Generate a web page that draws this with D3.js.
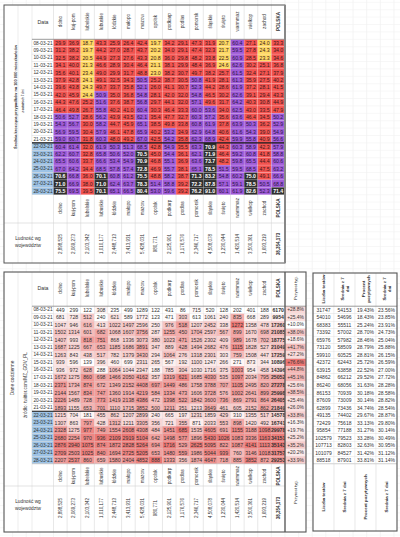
<!DOCTYPE html>
<html><head><meta charset="utf-8">
<script src="https://cdn.jsdelivr.net/npm/d3@7/dist/d3.min.js"></script>
<style>
html,body{margin:0;padding:0;background:#fff;}
svg{display:block;font-family:"Liberation Sans",Arial,sans-serif;}
</style></head>
<body><svg id="c" width="400" height="537"></svg>
<script>
// ---------- DATA ----------
const dates = ["08-03-21","09-03-21","10-03-21","11-03-21","12-03-21","13-03-21","14-03-21","15-03-21","16-03-21","17-03-21","18-03-21","19-03-21","20-03-21","21-03-21","22-03-21","23-03-21","24-03-21","25-03-21","26-03-21","27-03-21","28-03-21"];
const regions = ["dolno","kuj-pom","lubelskie","lubuskie","łódzkie","małopo","mazow","opolsk","podkarp","podlas","pomorsk","śląskie","święto","warmmaz","wielkop","zachod","POLSKA"];
const population = ["2,898,525","2,069,273","2,103,342","1,010,177","2,448,713","3,413,931","5,428,031","980,771","2,125,901","1,176,576","2,346,717","4,508,078","1,230,044","1,420,514","3,500,361","1,693,219","38,354,173"];

// 7-day average per 100k (one array per region, dates in order)
const avgDolno   = [29.9,31.2,32.5,34.1,35.6,37.9,39.6,42.0,44.3,46.4,50.6,54.3,56.9,59.0,60.4,62.2,65.5,67.0,70.6,71.0,75.5];
const avgKujPom  = [36.9,38.2,38.2,40.0,40.1,42.8,43.8,45.9,47.6,49.8,52.7,56.7,59.5,60.7,61.4,60.7,60.6,64.2,66.8,66.9,69.5];
const avgLubel   = [18.7,19.7,20.5,21.3,23.4,24.1,24.3,24.4,25.2,26.7,28.6,30.0,30.4,31.8,32.0,32.8,33.7,34.4,36.0,38.0,39.5];
const avgLubus   = [43.3,44.2,44.9,46.6,49.0,49.1,49.7,50.9,51.6,55.8,56.2,58.2,57.9,60.3,61.9,65.8,66.6,68.5,70.1,71.0,70.1];
const avgLodz    = [25.9,27.0,27.3,28.9,29.9,32.5,33.7,35.0,37.6,40.2,43.9,44.7,46.1,48.0,50.3,50.6,53.4,57.8,60.8,62.4,65.1];
const avgMalop   = [26.4,28.7,27.6,30.4,31.7,34.3,35.8,36.8,38.7,41.0,43.5,45.9,47.8,49.2,51.3,52.0,54.9,57.4,61.2,63.7,66.5];
const avgMazow   = [42.4,43.7,43.3,46.4,48.8,50.5,52.1,54.8,56.8,60.4,62.1,65.1,65.9,67.0,68.5,70.5,70.9,72.8,75.5,78.3,80.4];
const avgOpol    = [19.7,20.2,20.8,21.1,23.0,25.2,26.0,28.1,29.7,30.3,35.4,38.5,40.2,42.5,42.8,45.0,46.8,46.9,48.8,51.4,53.0];
const avgPodk    = [34.2,34.0,36.0,38.1,38.2,38.7,41.1,42.0,44.1,46.4,47.7,49.8,53.2,54.2,54.9,54.4,55.1,55.7,58.2,58.8,59.6];
const avgPodl    = [29.1,29.1,29.8,29.9,30.7,30.5,30.7,32.0,32.0,33.3,32.7,33.8,34.9,35.8,35.5,36.1,36.9,38.1,38.7,39.2,39.2];
const avgPomor   = [47.3,47.4,48.2,48.4,49.7,50.8,52.3,54.8,57.1,60.0,60.3,60.8,62.9,62.3,63.3,62.1,63.6,65.1,71.3,72.2,76.2];
const avgSlask   = [31.9,32.3,33.8,36.9,38.2,41.9,44.2,46.5,49.6,53.6,57.2,61.9,64.8,68.9,70.9,71.9,73.7,78.5,83.2,87.8,91.0];
const avgSwiet   = [20.7,21.7,22.5,24.6,25.7,28.1,28.6,30.2,31.7,34.0,35.6,37.8,40.6,42.4,44.3,46.4,48.2,51.5,54.8,57.1,60.1];
const avgWarm    = [60.4,59.5,60.9,62.6,61.5,61.3,61.9,62.6,64.2,62.5,63.6,63.9,61.6,59.9,60.3,59.2,59.8,59.5,60.2,59.1,61.9];
const avgWielk   = [27.1,27.8,28.5,30.2,32.4,35.9,37.2,39.1,40.3,43.0,46.4,50.3,54.3,55.8,58.9,60.8,65.5,68.5,75.0,78.5,82.6];
const avgZach    = [24.0,24.3,23.3,25.1,27.1,27.5,28.1,29.4,30.8,33.5,34.5,36.2,39.0,40.9,42.3,41.8,44.4,47.5,49.1,50.5,52.3];
const avgPolska  = [33.3,34.0,34.6,36.8,37.9,40.2,41.5,43.3,44.9,47.9,50.2,52.9,54.9,56.6,57.9,58.8,60.6,63.2,66.6,68.8,71.4];

// daily new cases (one array per region)
const dayDolno  = [449,681,1047,1502,1407,1687,1263,939,936,1672,2371,2144,2226,1893,1215,1307,2328,2680,2876,2709,2207];
const dayKujPom = [299,728,946,1314,993,1225,843,596,972,1275,1734,1567,1489,1155,704,863,1275,2254,2940,2503,2537];
const dayLubel  = [122,512,616,601,818,667,438,139,628,860,874,834,728,653,181,797,977,970,1075,1025,860];
const dayLubus  = [308,240,413,682,751,653,517,396,288,698,672,747,773,701,455,428,749,936,874,840,659];
const dayLodz   = [235,621,1022,1068,868,1185,782,460,1064,1466,1349,1360,1419,1110,862,1312,1554,2109,1872,1694,1580];
const dayMalop  = [499,589,1497,1607,1336,1686,1379,699,1044,2050,2152,1914,2138,1715,1207,1211,2608,2919,2828,2725,2404];
const dayMazow  = [1289,1772,2596,3756,3073,3891,3430,2311,2347,4162,4408,4219,4386,3852,2899,3305,4308,5104,5264,5205,4852];
const dayOpol   = [122,123,250,287,380,347,294,265,188,357,697,584,472,500,240,356,484,642,694,653,888];
const dayPodk   = [431,471,976,1255,1023,889,1064,567,785,1319,1449,1334,1398,1211,665,721,1451,1498,1716,1480,1333];
const dayPodl   = [86,303,518,450,471,428,276,192,304,621,486,473,522,351,197,355,685,577,529,559,356];
const dayPomor  = [715,613,1207,1704,1526,1494,1318,1100,1030,1685,1758,1606,1842,1213,1231,871,1535,1896,2625,1986,1874];
const daySlask  = [520,1061,2452,2597,2302,2682,2301,1247,1716,4030,3788,3728,3600,3649,1859,2033,4605,5430,5095,5044,4647];
const daySwiet  = [128,240,338,567,409,476,303,266,375,535,707,576,736,461,429,553,691,1026,822,939,718];
const dayWarm   = [202,835,1272,899,989,1115,759,271,1003,1097,1105,1002,869,605,310,898,1155,1083,1087,760,885];
const dayWielk  = [401,668,1358,1670,1678,1828,1508,873,954,2034,2495,2641,2791,2152,1355,1420,3188,3336,4141,3146,3852];
const dayZach   = [188,289,478,698,702,527,447,344,458,795,820,899,864,862,517,492,1098,1163,1113,1018,872];
const dayPolska = [6170,9954,17260,21085,18775,21049,17259,10896,14396,25052,27278,25998,26405,21849,14578,16741,29978,34151,35143,31757,29253];
const weeklyGrowth = [28.8,25.4,10.0,38.0,18.6,41.7,27.2,76.6,44.8,45.1,25.6,38.5,25.4,26.0,33.8,16.3,19.7,25.2,35.2,20.2,33.9];

// tests
const tests      = [31747,54010,68383,73392,65976,73120,59910,42372,63915,84862,86240,86153,87609,62899,49135,72429,95854,102579,107713,101079,88518];
const testsAvg7  = [54153,54696,55511,57002,57982,58509,60525,62443,63858,66212,68056,70939,73009,73436,74402,75618,77188,79523,82803,84527,87901];
const positivePct= [19.43,18.43,25.24,28.70,28.46,28.79,28.81,25.72,22.52,29.52,31.63,30.18,30.14,34.74,29.67,33.13,31.27,33.28,32.63,31.42,33.81];
const positiveAvg7=[23.56,23.85,23.91,24.73,25.04,25.88,26.15,26.59,27.00,27.72,28.28,28.58,28.82,28.54,28.87,29.80,30.14,30.49,30.95,31.12,31.14];

const avgSeries = [avgDolno,avgKujPom,avgLubel,avgLubus,avgLodz,avgMalop,avgMazow,avgOpol,avgPodk,avgPodl,avgPomor,avgSlask,avgSwiet,avgWarm,avgWielk,avgZach,avgPolska];
const daySeries = [dayDolno,dayKujPom,dayLubel,dayLubus,dayLodz,dayMalop,dayMazow,dayOpol,dayPodk,dayPodl,dayPomor,daySlask,daySwiet,dayWarm,dayWielk,dayZach,dayPolska];
const testCols = ["Liczba testów","Średnia z 7 dni","Procent pozytywnych","Średnia z 7 dni "];
const testSeries = [tests,testsAvg7,positivePct,positiveAvg7];

// ---------- DRAW ----------
const svg = d3.select("#c");

const x = d3.scaleBand().domain(regions).range([53.5, 285]);
const yTop = d3.scaleBand().domain(dates).range([39.3, 194.7]);
const yBot = d3.scaleBand().domain(dates).range([306.2, 463.8]);
const xT = d3.scaleBand().domain(testCols).range([313, 397]);

const colorTop = d3.scaleThreshold().domain([25, 50, 70])
  .range(["#fed863", "#f2534f", "#9f5bd8", "#303030"]);

// faint spreadsheet grid
const gridG = svg.append("g");
const gx = d3.range(-3, 40).map(k => 53.5 + k * x.bandwidth()).filter(v => v > 0 && v < 400);
gridG.selectAll("line.gv").data(gx).join("line")
  .attr("x1", d => d).attr("x2", d => d).attr("y1", 0).attr("y2", 537)
  .attr("stroke", "#ececec").attr("stroke-width", 0.6);
const gy = d3.range(-6, 70).map(k => 39.3 + k * 7.4).filter(v => v > 0 && v < 537);
gridG.selectAll("line.gh").data(gy).join("line")
  .attr("x1", 0).attr("x2", 400).attr("y1", d => d).attr("y2", d => d)
  .attr("stroke", "#f1f1f1").attr("stroke-width", 0.6);

function rotText(g, cx, cy, txt, size, bold, len) {
  const t = g.append("text")
    .attr("transform", `translate(${cx},${cy}) rotate(-90)`)
    .attr("text-anchor", "middle").attr("dominant-baseline", "central")
    .attr("font-size", size).attr("font-weight", bold ? "bold" : "normal")
    .attr("fill", "#333").text(txt);
  if (len) t.attr("textLength", len).attr("lengthAdjust", "spacingAndGlyphs");
  return t;
}

// white backgrounds for tables
svg.append("rect").attr("x", 4).attr("y", 5).attr("width", 281).attr("height", 258).attr("fill", "#fff");
svg.append("rect").attr("x", 4).attr("y", 272).attr("width", 302).attr("height", 260).attr("fill", "#fff");
svg.append("rect").attr("x", 313).attr("y", 273).attr("width", 84).attr("height", 258).attr("fill", "#fff");

// ===== TOP BLOCK =====
const topG = svg.append("g");
const colEdges = regions.map(r => x(r)).concat([285]);
topG.selectAll("line.cv").data(colEdges).join("line")
  .attr("x1", d => d).attr("x2", d => d).attr("y1", 5).attr("y2", 263)
  .attr("stroke", "#d9d9d9").attr("stroke-width", 0.6);
[18, 32].forEach(v => topG.append("line").attr("x1", v).attr("x2", v).attr("y1", 5).attr("y2", 263)
  .attr("stroke", "#e0e0e0").attr("stroke-width", 0.6));

topG.selectAll("g.hd").data(regions).join("g").each(function (r) {
  rotText(d3.select(this), x(r) + x.bandwidth() / 2, 21.5, r, 4.6, r === "POLSKA");
});
topG.append("text").attr("x", 43).attr("y", 22).attr("text-anchor", "middle").attr("dominant-baseline", "central")
  .attr("font-size", 5.2).attr("fill", "#333").text("Data");

topG.selectAll("rect.dt").data(dates).join("rect")
  .attr("x", 32).attr("y", d => yTop(d)).attr("width", 21.5).attr("height", yTop.bandwidth())
  .attr("fill", (d, i) => i >= 14 ? "#9dc3e6" : "#fff").attr("stroke", "#d9d9d9").attr("stroke-width", 0.4);
topG.selectAll("text.dt").data(dates).join("text")
  .attr("x", 43).attr("y", d => yTop(d) + yTop.bandwidth() / 2)
  .attr("text-anchor", "middle").attr("dominant-baseline", "central")
  .attr("font-size", 4.8).attr("fill", "#333").text(d => d);

const cellsTop = [];
avgSeries.forEach((s, ci) => s.forEach((v, ri) => cellsTop.push({ r: regions[ci], d: dates[ri], v })));
topG.selectAll("rect.c").data(cellsTop).join("rect")
  .attr("x", d => x(d.r)).attr("y", d => yTop(d.d))
  .attr("width", x.bandwidth()).attr("height", yTop.bandwidth())
  .attr("fill", d => colorTop(d.v)).attr("stroke", "rgba(255,255,255,0.35)").attr("stroke-width", 0.4);
topG.selectAll("text.c").data(cellsTop).join("text")
  .attr("x", d => x(d.r) + x.bandwidth() / 2).attr("y", d => yTop(d.d) + yTop.bandwidth() / 2)
  .attr("text-anchor", "middle").attr("dominant-baseline", "central")
  .attr("font-size", 5.2)
  .attr("font-weight", d => d.v >= 70 ? "bold" : "normal")
  .attr("fill", d => d.v >= 70 ? "#fff" : (d.v >= 50 ? "#2a1845" : "#3a1a1a"))
  .text(d => d.v.toFixed(1));

topG.append("line").attr("x1", 32).attr("x2", 285).attr("y1", 39.3).attr("y2", 39.3).attr("stroke", "#888").attr("stroke-width", 0.8);
topG.append("line").attr("x1", 32).attr("x2", 285).attr("y1", yTop(dates[14])).attr("y2", yTop(dates[14])).attr("stroke", "#111").attr("stroke-width", 1.1);
topG.append("line").attr("x1", 4).attr("x2", 285).attr("y1", 223).attr("y2", 223).attr("stroke", "#d0d0d0").attr("stroke-width", 0.6);

rotText(topG, 15, 97, "Średnia krocząca przypadków na 100 000 mieszkańców", 4.4, true, 104);
rotText(topG, 22, 101, "z ostatnich 7 dni", 4.4, true, 23);

topG.selectAll("g.bl").data(regions).join("g").each(function (r, i) {
  const cx = x(r) + x.bandwidth() / 2;
  rotText(d3.select(this), cx, 208, r, 4.6, r === "POLSKA");
  rotText(d3.select(this), cx, 244, population[i], 4.5, r === "POLSKA");
});
topG.append("text").attr("x", 28).attr("y", 240).attr("text-anchor", "middle").attr("font-size", 4.8).attr("fill", "#333").text("Ludność wg");
topG.append("text").attr("x", 28).attr("y", 247).attr("text-anchor", "middle").attr("font-size", 4.8).attr("fill", "#333").text("województw");

topG.append("rect").attr("x", 4).attr("y", 5).attr("width", 281).attr("height", 258)
  .attr("fill", "none").attr("stroke", "#555").attr("stroke-width", 1);
topG.append("line").attr("x1", 285).attr("x2", 285).attr("y1", 5).attr("y2", 263).attr("stroke", "#888").attr("stroke-width", 2);

// ===== BOTTOM BLOCK =====
const botG = svg.append("g");
botG.selectAll("line.cv").data(colEdges).join("line")
  .attr("x1", d => d).attr("x2", d => d).attr("y1", 272).attr("y2", 532)
  .attr("stroke", "#d9d9d9").attr("stroke-width", 0.6);
[18, 32].forEach(v => botG.append("line").attr("x1", v).attr("x2", v).attr("y1", 272).attr("y2", 532)
  .attr("stroke", "#e0e0e0").attr("stroke-width", 0.6));

botG.selectAll("g.hd").data(regions).join("g").each(function (r) {
  rotText(d3.select(this), x(r) + x.bandwidth() / 2, 288, r, 4.6, r === "POLSKA");
});
botG.append("text").attr("x", 43).attr("y", 288).attr("text-anchor", "middle").attr("dominant-baseline", "central")
  .attr("font-size", 5.2).attr("fill", "#333").text("Data");
rotText(botG, 295.5, 288, "Przyrost tyg.", 4.3, false);

botG.selectAll("rect.dt").data(dates).join("rect")
  .attr("x", 32).attr("y", d => yBot(d)).attr("width", 21.5).attr("height", yBot.bandwidth())
  .attr("fill", (d, i) => i >= 14 ? "#9dc3e6" : "#fff").attr("stroke", "#d9d9d9").attr("stroke-width", 0.4);
botG.selectAll("text.dt").data(dates).join("text")
  .attr("x", 43).attr("y", d => yBot(d) + yBot.bandwidth() / 2)
  .attr("text-anchor", "middle").attr("dominant-baseline", "central")
  .attr("font-size", 4.8).attr("fill", "#333").text(d => d);

const cellsBot = [];
daySeries.forEach((s, ci) => {
  const sc = d3.scaleLinear().domain(d3.extent(s)).range(["#ffffff", "#ec7774"]);
  s.forEach((v, ri) => cellsBot.push({ r: regions[ci], d: dates[ri], v, col: sc(v) }));
});
botG.selectAll("rect.c").data(cellsBot).join("rect")
  .attr("x", d => x(d.r)).attr("y", d => yBot(d.d))
  .attr("width", x.bandwidth()).attr("height", yBot.bandwidth())
  .attr("fill", d => d.col).attr("stroke", "rgba(200,200,200,0.35)").attr("stroke-width", 0.3);
botG.selectAll("text.c").data(cellsBot).join("text")
  .attr("x", d => x(d.r) + x.bandwidth() / 2).attr("y", d => yBot(d.d) + yBot.bandwidth() / 2)
  .attr("text-anchor", "middle").attr("dominant-baseline", "central")
  .attr("font-size", 5.2).attr("font-weight", d => d.r === "POLSKA" ? "bold" : "normal")
  .attr("fill", "#333").text(d => d.v);

const gScale = d3.scaleLinear().domain(d3.extent(weeklyGrowth)).range(["#ffffff", "#ec7774"]);
botG.selectAll("rect.g").data(weeklyGrowth).join("rect")
  .attr("x", 285).attr("y", (d, i) => yBot(dates[i])).attr("width", 21).attr("height", yBot.bandwidth())
  .attr("fill", d => gScale(d)).attr("stroke", "rgba(200,200,200,0.35)").attr("stroke-width", 0.3);
botG.selectAll("text.g").data(weeklyGrowth).join("text")
  .attr("x", 295.5).attr("y", (d, i) => yBot(dates[i]) + yBot.bandwidth() / 2)
  .attr("text-anchor", "middle").attr("dominant-baseline", "central")
  .attr("font-size", 4.9).attr("fill", "#333").text(d => "+" + d.toFixed(1) + "%");

botG.append("line").attr("x1", 32).attr("x2", 306).attr("y1", 306.2).attr("y2", 306.2).attr("stroke", "#888").attr("stroke-width", 0.8);
botG.append("line").attr("x1", 32).attr("x2", 285).attr("y1", yBot(dates[14])).attr("y2", yBot(dates[14])).attr("stroke", "#111").attr("stroke-width", 1.1);
botG.append("line").attr("x1", 32).attr("x2", 306).attr("y1", 463.8).attr("y2", 463.8).attr("stroke", "#bbb").attr("stroke-width", 0.6);
botG.append("line").attr("x1", 4).attr("x2", 285).attr("y1", 486).attr("y2", 486).attr("stroke", "#d0d0d0").attr("stroke-width", 0.6);

rotText(botG, 12, 378, "Dane codzienne", 4.8, false);
rotText(botG, 25, 385, "źródło: twitter.com/MZ_GOV_PL", 4.6, false);

botG.selectAll("g.bl").data(regions).join("g").each(function (r, i) {
  const cx = x(r) + x.bandwidth() / 2;
  rotText(d3.select(this), cx, 476, r, 4.6, r === "POLSKA");
  rotText(d3.select(this), cx, 508, population[i], 4.5, r === "POLSKA");
});
rotText(botG, 295.5, 492, "Przyrost tyg.", 4.3, false);
botG.append("text").attr("x", 28).attr("y", 503).attr("text-anchor", "middle").attr("font-size", 4.8).attr("fill", "#333").text("Ludność wg");
botG.append("text").attr("x", 28).attr("y", 510).attr("text-anchor", "middle").attr("font-size", 4.8).attr("fill", "#333").text("województw");

botG.append("rect").attr("x", 4).attr("y", 272).attr("width", 302).attr("height", 260)
  .attr("fill", "none").attr("stroke", "#555").attr("stroke-width", 1.1);
botG.append("line").attr("x1", 285).attr("x2", 285).attr("y1", 272).attr("y2", 532).attr("stroke", "#555").attr("stroke-width", 1.3);

// ===== TESTS TABLE =====
const ttG = svg.append("g");
ttG.selectAll("line.cv").data(testCols.map(c => xT(c)).slice(1)).join("line")
  .attr("x1", d => d).attr("x2", d => d).attr("y1", 273).attr("y2", 531)
  .attr("stroke", "#d9d9d9").attr("stroke-width", 0.6);
const hdrLines = [["Liczba testów"], ["Średnia z 7", "dni"], ["Procent", "pozytywnych"], ["Średnia z 7", "dni"]];
testCols.forEach((c, i) => {
  const cx = xT(c) + xT.bandwidth() / 2;
  const ls = hdrLines[i];
  ls.forEach((l, j) => rotText(ttG, cx + (j - (ls.length - 1) / 2) * 5, 289, l, 4.4, true));
  rotText(ttG, cx, 497, c.trim(), 4.4, true);
});
const cellsT = [];
testSeries.forEach((s, ci) => s.forEach((v, ri) => cellsT.push({ c: testCols[ci], ci, d: dates[ri], v })));
ttG.selectAll("rect.c").data(cellsT).join("rect")
  .attr("x", d => xT(d.c)).attr("y", d => yBot(d.d)).attr("width", xT.bandwidth()).attr("height", yBot.bandwidth())
  .attr("fill", "#fff").attr("stroke", "#e3e3e3").attr("stroke-width", 0.4);
ttG.selectAll("text.c").data(cellsT).join("text")
  .attr("x", d => xT(d.c) + xT.bandwidth() / 2).attr("y", d => yBot(d.d) + yBot.bandwidth() / 2)
  .attr("text-anchor", "middle").attr("dominant-baseline", "central")
  .attr("font-size", 5).attr("fill", "#333")
  .text(d => d.ci >= 2 ? d.v.toFixed(2) + "%" : d.v);
ttG.append("line").attr("x1", 313).attr("x2", 397).attr("y1", 306.2).attr("y2", 306.2).attr("stroke", "#888").attr("stroke-width", 0.8);
ttG.append("line").attr("x1", 313).attr("x2", 397).attr("y1", 463.8).attr("y2", 463.8).attr("stroke", "#bbb").attr("stroke-width", 0.6);
ttG.append("rect").attr("x", 313).attr("y", 273).attr("width", 84).attr("height", 258)
  .attr("fill", "none").attr("stroke", "#555").attr("stroke-width", 1.1);
</script>
</body></html>
